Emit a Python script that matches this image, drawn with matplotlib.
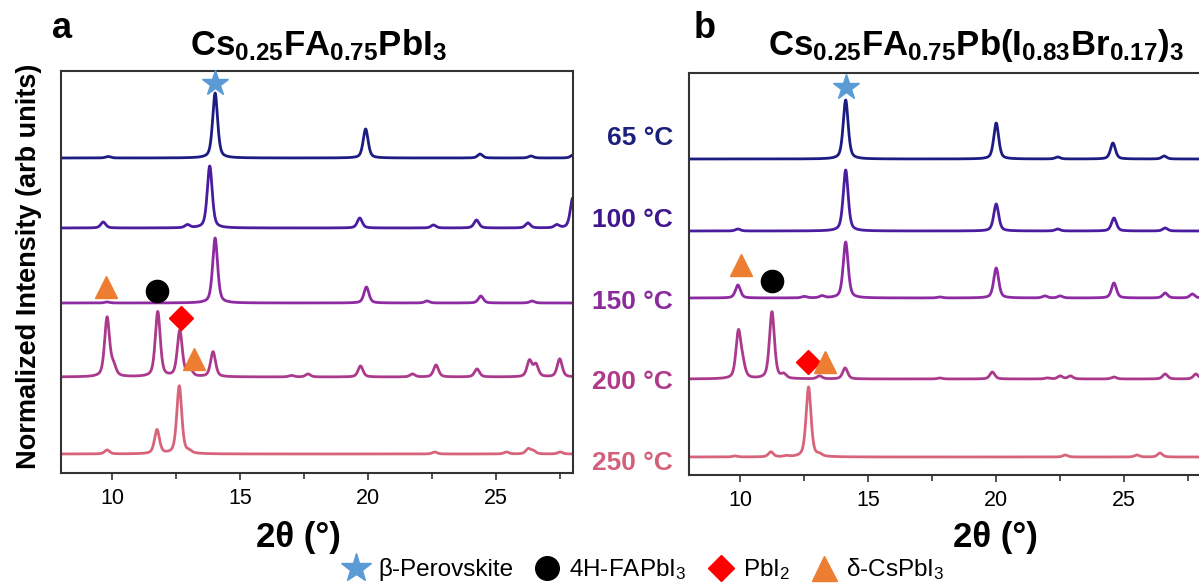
import matplotlib
matplotlib.use("Agg")
import matplotlib.pyplot as plt
from matplotlib.lines import Line2D
import numpy as np

plt.rcParams["font.family"] = ["Liberation Sans", "DejaVu Sans"]
plt.rcParams["mathtext.fontset"] = "custom"
plt.rcParams["mathtext.rm"] = "Liberation Sans"
plt.rcParams["mathtext.bf"] = "Liberation Sans:bold"
plt.rcParams["mathtext.default"] = "regular"

# temperatures and colours of the stacked traces (top to bottom)
temps = ["65 °C", "100 °C", "150 °C", "200 °C", "250 °C"]
line_colors = ["#1c1c82", "#4a1ca0", "#8e2aa2", "#ab3a8c", "#d8647c"]
label_colors = ["#1c1f7c", "#40168f", "#8a2a9b", "#b03a8a", "#d3607a"]

# vertical offsets of each trace (arb units)
offsets_a = [315, 245, 170, 96, 19]
offsets_b = [316, 244, 177, 96, 18]

# peaks: (2theta, height)
peaks_a = [
    [(9.84, 1.5), (14.02, 65), (19.9, 29), (24.37, 4), (26.36, 2), (28.0, 3)],
    [(9.65, 6), (12.94, 3), (13.81, 62), (19.67, 10), (22.55, 3), (24.23, 8),
     (26.24, 5), (27.37, 3), (27.99, 30)],
    [(9.8, 1), (14.02, 65), (19.93, 16), (22.3, 2), (24.4, 7), (26.4, 2)],
    [(9.8, 59), (10.05, 10), (11.78, 65), (12.64, 46), (13.04, 7), (13.94, 25),
     (17.0, 1.5), (17.65, 3), (19.7, 11), (21.73, 3), (22.65, 12), (24.25, 8),
     (26.3, 16), (26.55, 12), (27.48, 18)],
    [(9.8, 4), (11.75, 24), (12.62, 68), (13.0, 2), (22.6, 2), (25.4, 2),
     (26.25, 5), (26.45, 3), (27.5, 2)],
]
peaks_b = [
    [(14.12, 59), (20.0, 36), (22.4, 2), (24.56, 16), (26.56, 3)],
    [(9.91, 2), (14.12, 61), (20.0, 27), (22.4, 2), (24.6, 13), (26.6, 3)],
    [(9.91, 13), (12.5, 1.5), (13.2, 2), (14.12, 56), (17.8, 1), (20.0, 30),
     (21.9, 2), (22.5, 2), (24.6, 15), (26.6, 5), (27.66, 4)],
    [(9.93, 46), (10.1, 12), (11.24, 67), (11.7, 4), (13.1, 3), (14.1, 11),
     (17.8, 1), (19.85, 7), (22.0, 1), (22.5, 3), (22.9, 3), (24.6, 2),
     (26.6, 5), (27.8, 5)],
    [(9.8, 1), (11.2, 5), (11.8, 1), (12.67, 70), (13.1, 2), (22.7, 2),
     (25.5, 2), (26.4, 4)],
]

# phase markers: (2theta, y)
star_a = [(14.02, 390)]
circle_a = [(11.76, 182)]
diamond_a = [(12.68, 155)]
triangle_a = [(9.77, 186), (13.2, 114)]
star_b = [(14.15, 388)]
circle_b = [(11.24, 194)]
diamond_b = [(12.63, 113)]
triangle_b = [(10.03, 210), (13.3, 113)]

titles = [r"$\mathbf{Cs_{0.25}FA_{0.75}PbI_3}$",
          r"$\mathbf{Cs_{0.25}FA_{0.75}Pb(I_{0.83}Br_{0.17})_3}$"]

x = np.linspace(8, 28, 2000)


def trace(peaks, offset, w=0.115):
    y = np.full_like(x, float(offset))
    for pos, h in peaks:
        u = (x - pos) / w
        y += h * (0.5 / (1 + u ** 2) + 0.5 * np.exp(-np.log(2) * u ** 2))
    return y


fig = plt.figure(figsize=(11.99, 5.85), dpi=100)
ax_a = fig.add_axes([61 / 1199, 1 - 473 / 585, 512 / 1199, 402 / 585])
ax_b = fig.add_axes([689 / 1199, 1 - 475 / 585, 512 / 1199, 402 / 585])

marker_style = dict(clip_on=False, zorder=5, linestyle="none")

for ax, peaks, offsets, stars, circles, diamonds, tris in [
    (ax_a, peaks_a, offsets_a, star_a, circle_a, diamond_a, triangle_a),
    (ax_b, peaks_b, offsets_b, star_b, circle_b, diamond_b, triangle_b),
]:
    for pk, off, c in zip(peaks, offsets, line_colors):
        ax.plot(x, trace(pk, off), color=c, linewidth=2.0)

    ax.plot(*zip(*stars), marker="*", markersize=19, color="#5b9bd5", **marker_style)
    ax.plot(*zip(*circles), marker="o", markersize=16, color="black", **marker_style)
    ax.plot(*zip(*diamonds), marker="D", markersize=12, color="#ff0000", **marker_style)
    ax.plot(*zip(*tris), marker="^", markersize=16, color="#ed7d31", **marker_style)

    ax.set_xlim(8, 28)
    ax.set_ylim(0, 402)
    ax.set_yticks([])
    ax.set_xticks([10, 15, 20, 25])
    ax.set_xticks([12.5, 17.5, 22.5, 27.5], minor=True)
    ax.tick_params(axis="x", which="major", direction="out", length=5, width=1.2,
                   labelsize=15.5, colors="#333333", labelcolor="black", pad=6)
    ax.tick_params(axis="x", which="minor", direction="out", length=4, width=1.2,
                   colors="#333333")
    for spine in ax.spines.values():
        spine.set_color("#333333")
        spine.set_linewidth(1.5)

# titles, panel letters, axis labels
fig.text(52 / 1199, 1 - 29 / 585, "a", fontsize=26, fontweight="bold", ha="left", va="center")
fig.text(694 / 1199, 1 - 29 / 585, "b", fontsize=26, fontweight="bold", ha="left", va="center")
fig.text(318 / 1199, 1 - 45 / 585, titles[0], fontsize=25, ha="center", va="center")
fig.text(976 / 1199, 1 - 45 / 585, titles[1], fontsize=25, ha="center", va="center")

fig.text(298 / 1199, 1 - 538 / 585, "2θ (°)", fontsize=25, fontweight="bold", ha="center", va="center")
fig.text(995 / 1199, 1 - 538 / 585, "2θ (°)", fontsize=25, fontweight="bold", ha="center", va="center")
fig.text(29 / 1199, 1 - 266 / 585, "Normalized Intensity (arb units)", fontsize=19.5,
         fontweight="bold", rotation=90, ha="center", va="center")

temp_y = [138, 220, 302, 382, 463]
for t, ty, c in zip(temps, temp_y, label_colors):
    fig.text(673 / 1199, 1 - ty / 585, t, fontsize=19, fontweight="bold", color=c,
             ha="right", va="center")

# legend
handles = [
    Line2D([], [], marker="*", markersize=22, color="#5b9bd5", linestyle="none"),
    Line2D([], [], marker="o", markersize=17, color="black", linestyle="none"),
    Line2D([], [], marker="D", markersize=13, color="#ff0000", linestyle="none"),
    Line2D([], [], marker="^", markersize=18, color="#ed7d31", linestyle="none"),
]
labels = ["β-Perovskite", "4H-FAPbI$_3$", "PbI$_2$", "δ-CsPbI$_3$"]
fig.legend(handles, labels, loc="center", bbox_to_anchor=(643 / 1199, 1 - 569 / 585),
           ncol=4, frameon=False, fontsize=17.5, handletextpad=0.3, columnspacing=0.8,
           handlelength=1.2, borderpad=0)

fig.savefig("out.png", dpi=100)
